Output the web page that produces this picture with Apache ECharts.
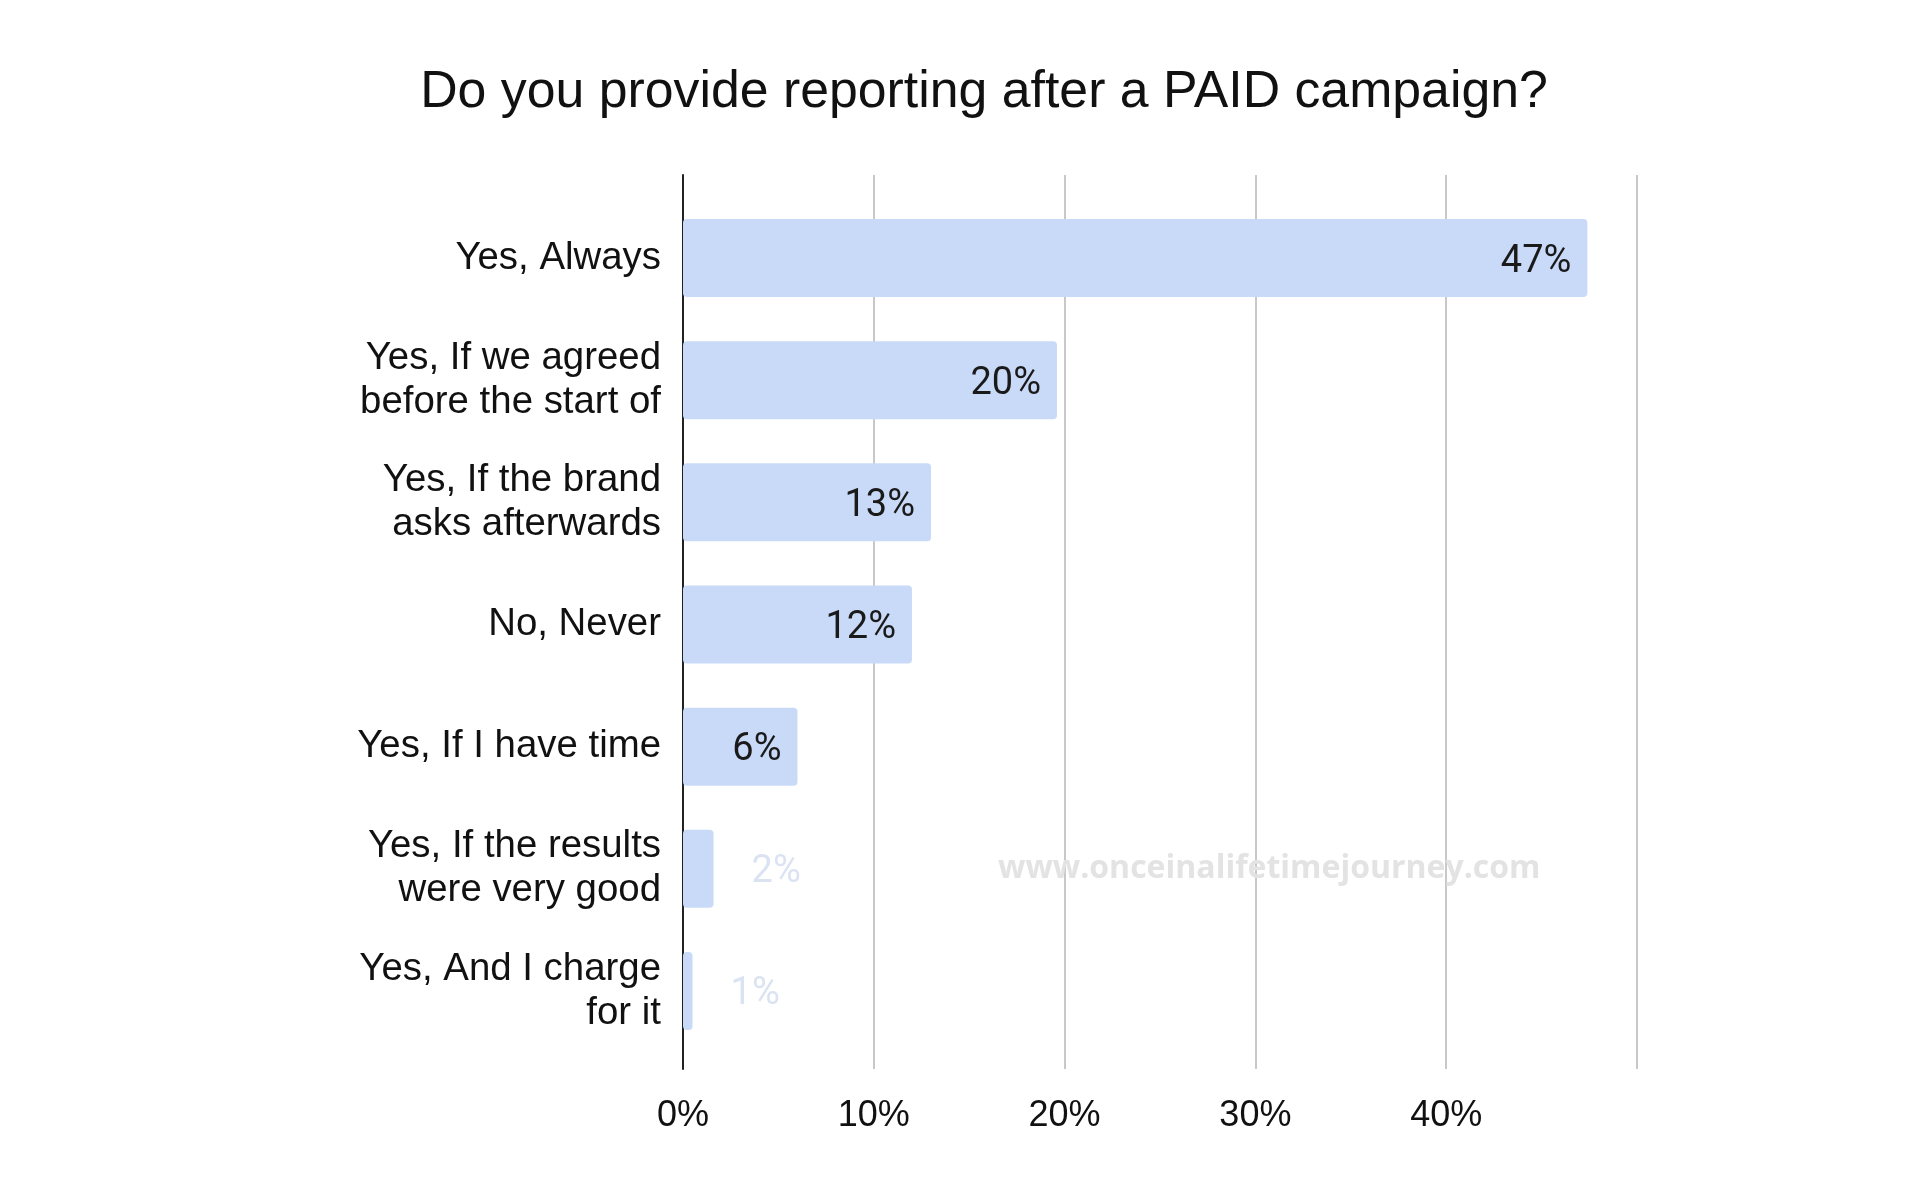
<!DOCTYPE html>
<html>
<head>
<meta charset="utf-8">
<script src="https://cdn.jsdelivr.net/npm/echarts@6/dist/echarts.min.js"></script>
<style>
html,body{margin:0;padding:0;background:#fff;}
#c{width:1920px;height:1188px;}
</style>
</head>
<body>
<div id="c"></div>
<script>
const title = 'Do you provide reporting after a PAID campaign?';
const categories = [
  'Yes, Always',
  'Yes, If we agreed\nbefore the start of',
  'Yes, If the brand\nasks afterwards',
  'No, Never',
  'Yes, If I have time',
  'Yes, If the results\nwere very good',
  'Yes, And I charge\nfor it'
];
const values = [47.4, 19.6, 13.0, 12.0, 6.0, 1.6, 0.5];
const xTicks = [0, 10, 20, 30, 40, 50];
const watermark = 'www.onceinalifetimejourney.com';

const chart = echarts.init(document.getElementById('c'), null, {renderer: 'canvas'});
const xMin = xTicks[0], xMax = xTicks[xTicks.length - 1];
const option = {
  backgroundColor: '#ffffff',
  animation: false,
  title: {
    text: title,
    left: 979, top: 62, textAlign: 'center',
    textStyle: {fontFamily: 'Liberation Sans', fontSize: 51.8, fontWeight: 'normal', color: '#111'}
  },
  grid: [
    {left: 683, top: 175, width: 954, height: 894},
    {left: 683, top: 197, width: 954, height: 855}
  ],
  xAxis: [
    {
      gridIndex: 0, type: 'value', min: xMin, max: xMax, interval: 10,
      axisLine: {show: false}, axisTick: {show: false},
      splitLine: {show: true, lineStyle: {color: '#c8c8c8', width: 2}},
      axisLabel: {
        margin: 29, fontFamily: 'Liberation Sans', fontSize: 36, color: '#111',
        formatter: v => v === xMax ? '' : v + '%'
      }
    },
    {gridIndex: 1, type: 'value', min: xMin, max: xMax, show: false}
  ],
  yAxis: [
    {
      gridIndex: 0, type: 'value', min: 0, max: 1,
      axisLine: {show: true, lineStyle: {color: '#222', width: 2}},
      axisTick: {show: false}, axisLabel: {show: false}, splitLine: {show: false}
    },
    {
      gridIndex: 1, type: 'category', inverse: true, data: categories,
      axisLine: {show: false}, axisTick: {show: false},
      axisLabel: {
        margin: 22, fontFamily: 'Liberation Sans', fontSize: 38.4, color: '#111',
        lineHeight: 44, align: 'right'
      }
    }
  ],
  series: [{
    type: 'bar', xAxisIndex: 1, yAxisIndex: 1,
    barWidth: 78,
    itemStyle: {color: '#c9daf8', borderRadius: 4},
    label: {
      show: true, position: 'insideRight', distance: 16, offset: [0, 4],
      fontFamily: 'Roboto', fontSize: 38, color: '#1a1a1a',
      formatter: p => Math.round(p.value) + '%'
    },
    data: values.map(v => v < 3 ? {
      value: v,
      label: {position: 'right', distance: 38, color: '#dbe3f3'}
    } : v)
  }],
  graphic: [{
    type: 'text', left: 998, top: 853, z: 10,
    style: {
      text: watermark, fill: '#e3e3e3',
      font: '700 32px "Open Sans"'
    }
  }]
};
chart.setOption(option);
</script>
</body>
</html>
